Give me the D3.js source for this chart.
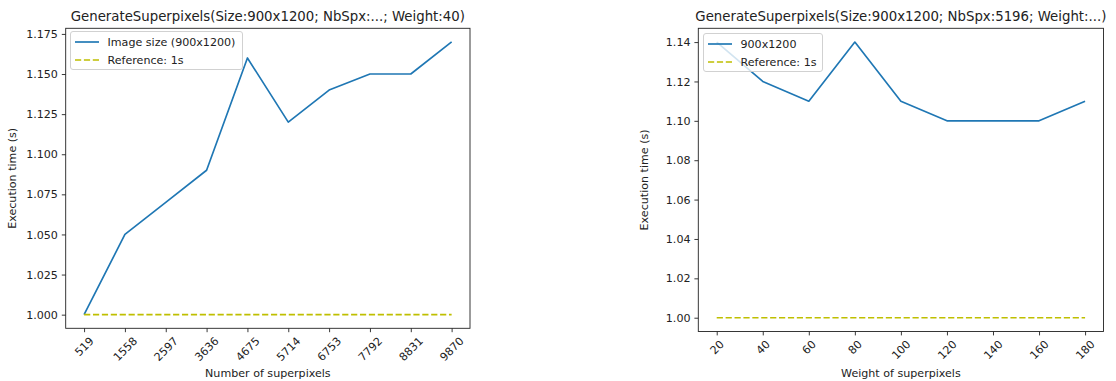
<!DOCTYPE html>
<html><head><meta charset="utf-8">
<script src="https://cdn.jsdelivr.net/npm/d3@7"></script>
<style>body{margin:0;background:#fff}svg{display:block;font-family:"DejaVu Sans",sans-serif}</style>
</head><body>
<svg id="c" width="1116" height="381"></svg>
<script>
// Data
const nbSpx = [519, 1558, 2597, 3636, 4675, 5714, 6753, 7792, 8831, 9870];
const timeNbSpx = [1.00, 1.05, 1.07, 1.09, 1.16, 1.12, 1.14, 1.15, 1.15, 1.17];
const weights = [20, 40, 60, 80, 100, 120, 140, 160, 180];
const timeWeight = [1.14, 1.12, 1.11, 1.14, 1.11, 1.10, 1.10, 1.10, 1.11];
const referenceValue = 1;
const yTicksLeft = [1.000, 1.025, 1.050, 1.075, 1.100, 1.125, 1.150, 1.175];
const yTicksRight = [1.00, 1.02, 1.04, 1.06, 1.08, 1.10, 1.12, 1.14];

const FS = 11.1, TFS = 13.3, LW = 1.67;
const svg = d3.select("#c");

function panel(cfg) {
  const {left, right, top, bottom, xs, ys, yTicks, yFmt, title, xLabel, seriesLabel, legend} = cfg;
  const xPad = (d3.max(xs) - d3.min(xs)) * 0.05;
  const yMin = Math.min(d3.min(ys), referenceValue), yMax = d3.max(ys);
  const yPad = (yMax - yMin) * 0.05;
  const x = d3.scaleLinear().domain([d3.min(xs) - xPad, d3.max(xs) + xPad]).range([left, right]);
  const y = d3.scaleLinear().domain([yMin - yPad, yMax + yPad]).range([bottom, top]);
  const g = svg.append("g");

  const line = d3.line().x(d => x(d[0])).y(d => y(d[1]));
  g.append("path").datum(xs.map((v, i) => [v, ys[i]])).attr("d", line)
    .attr("fill", "none").attr("stroke", "#1f77b4").attr("stroke-width", LW).attr("stroke-linejoin", "round");
  g.append("path").datum(xs.map(v => [v, referenceValue])).attr("d", line)
    .attr("fill", "none").attr("stroke", "#bfbf00").attr("stroke-width", LW).attr("stroke-dasharray", "6.2,2.7");

  const yAxis = d3.axisLeft(y).tickValues(yTicks).tickFormat(d3.format(yFmt)).tickSize(3.9).tickPadding(3.9);
  const ya = g.append("g").attr("transform", `translate(${left},0)`).call(yAxis);
  ya.select(".domain").remove();
  ya.selectAll("text").attr("font-size", FS).attr("fill", "#222").attr("font-family", "DejaVu Sans");
  ya.selectAll("line").attr("stroke", "#222").attr("stroke-width", 0.9);

  const xAxis = d3.axisBottom(x).tickValues(xs).tickFormat(d3.format("d")).tickSize(3.9).tickPadding(0);
  const xa = g.append("g").attr("transform", `translate(0,${bottom})`).call(xAxis);
  xa.select(".domain").remove();
  xa.selectAll("line").attr("stroke", "#222").attr("stroke-width", 0.9);
  xa.selectAll("text").attr("font-size", FS).attr("fill", "#222").attr("font-family", "DejaVu Sans")
    .attr("text-anchor", "middle").attr("dy", null).attr("y", null)
    .each(function() {
      const w = this.getComputedTextLength(), h = FS * 0.8;
      const cy = 7.8 + (w + h) / (2 * Math.SQRT2);
      d3.select(this).attr("dominant-baseline", "central")
        .attr("transform", `translate(0,${cy}) rotate(-45)`);
    });

  g.append("rect").attr("x", left).attr("y", top).attr("width", right - left).attr("height", bottom - top)
    .attr("fill", "none").attr("stroke", "#222").attr("stroke-width", 0.9);

  g.append("text").attr("x", (left + right) / 2).attr("y", top - 7).attr("text-anchor", "middle")
    .attr("font-size", TFS).attr("fill", "#222").text(title);
  g.append("text").attr("x", (left + right) / 2).attr("y", 377).attr("text-anchor", "middle")
    .attr("font-size", FS).attr("fill", "#222").text(xLabel);
  g.append("text").attr("transform", `translate(${left - 53.5},${(top + bottom) / 2}) rotate(-90)`)
    .attr("text-anchor", "middle").attr("dominant-baseline", "central")
    .attr("font-size", FS).attr("fill", "#222").text("Execution time (s)");

  const lg = g.append("g");
  lg.append("rect").attr("x", legend.x).attr("y", legend.y).attr("width", legend.w).attr("height", 38)
    .attr("rx", 2.5).attr("fill", "#fff").attr("fill-opacity", 0.8).attr("stroke", "#ccc").attr("stroke-width", 0.9);
  const items = [[seriesLabel, "#1f77b4", null], ["Reference: 1s", "#bfbf00", "6.2,2.7"]];
  items.forEach((it, i) => {
    const yy = legend.y + 10.5 + i * 18;
    lg.append("line").attr("x1", legend.x + 4.5).attr("x2", legend.x + 28.5).attr("y1", yy).attr("y2", yy)
      .attr("stroke", it[1]).attr("stroke-width", LW).attr("stroke-dasharray", it[2]);
    lg.append("text").attr("x", legend.x + 37).attr("y", yy).attr("dominant-baseline", "central")
      .attr("font-size", FS).attr("fill", "#222").text(it[0]);
  });
}

panel({left: 65.7, right: 470, top: 28.3, bottom: 328.3, xs: nbSpx, ys: timeNbSpx,
  yTicks: yTicksLeft, yFmt: ".3f", title: "GenerateSuperpixels(Size:900x1200; NbSpx:...; Weight:40)",
  xLabel: "Number of superpixels", seriesLabel: "Image size (900x1200)",
  legend: {x: 70.5, y: 31.5, w: 172}});
panel({left: 698.3, right: 1103.5, top: 28.3, bottom: 331.5, xs: weights, ys: timeWeight,
  yTicks: yTicksRight, yFmt: ".2f", title: "GenerateSuperpixels(Size:900x1200; NbSpx:5196; Weight:...)",
  xLabel: "Weight of superpixels", seriesLabel: "900x1200",
  legend: {x: 703.5, y: 33.5, w: 119}});
</script>
</body></html>
